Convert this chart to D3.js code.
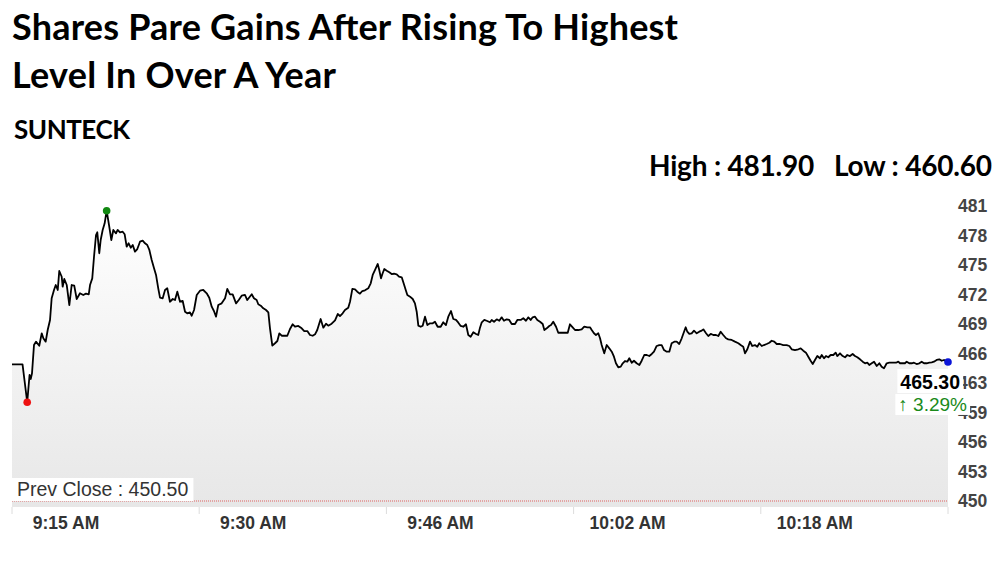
<!DOCTYPE html>
<html><head><meta charset="utf-8">
<script src="https://cdn.jsdelivr.net/npm/d3@7"></script>
<style>body{margin:0;background:#fff;} svg{display:block}</style>
</head><body><svg id="c" width="1000" height="562"></svg>
<script>
const titleLines = ["Shares Pare Gains After Rising To Highest", "Level In Over A Year"];
const symbol = "SUNTECK";
const dayHigh = 481.90, dayLow = 460.60, prevClose = 450.50;
const tickMinutes = [0, 16, 32, 48, 64];
const tickLabels = ["9:15 AM", "9:30 AM", "9:46 AM", "10:02 AM", "10:18 AM"];

// minutes since session start (chart index)
const minutes = [
  0, 0.9, 1.3, 1.5, 1.6, 1.71, 1.88, 2.05, 2.33, 2.54,
  2.68, 2.88, 3.05, 3.25, 3.39, 3.59, 3.74, 3.91, 4.04, 4.25,
  4.33, 4.47, 4.68, 4.9, 5.1, 5.32, 5.53, 5.81, 6.09, 6.32,
  6.56, 6.67, 6.86, 7.01, 7.18, 7.29, 7.46, 7.58, 7.75, 7.92,
  8.09, 8.29, 8.49, 8.66, 8.89, 9.03, 9.23, 9.46, 9.63, 9.8,
  9.97, 10.15, 10.32, 10.51, 10.71, 10.94, 11.17, 11.37, 11.56, 11.74,
  11.94, 12.14, 12.31, 12.5, 12.65, 12.88, 13.08, 13.27, 13.5, 13.74,
  13.93, 14.13, 14.36, 14.59, 14.79, 14.98, 15.21, 15.36, 15.56, 15.79,
  16.07, 16.35, 16.64, 16.86, 17.07, 17.26, 17.44, 17.63, 17.92, 18.21,
  18.4, 18.63, 18.86, 19.15, 19.38, 19.63, 19.91, 20.11,
  20.49, 20.68, 20.91, 21.05, 21.26, 21.48, 21.71, 21.91, 22.05, 22.25,
  22.48, 22.68, 22.85, 23.05, 23.33, 23.53, 23.76, 23.99, 24.19, 24.47,
  24.76, 24.98, 25.24, 25.47, 25.7, 25.9, 26.09, 26.38, 26.61, 26.84,
  27.03, 27.32, 27.61, 27.84, 28.03, 28.26, 28.46, 28.74, 28.89, 29.09,
  29.32, 29.51, 29.74, 29.94, 30.17, 30.45, 30.66, 30.83, 31.03, 31.26,
  31.39, 31.54, 31.68, 31.82, 32.03, 32.25, 32.45, 32.65, 32.88, 33.08,
  33.31, 33.5, 33.68, 33.79, 34.02, 34.25, 34.44, 34.59, 34.73, 34.93,
  35.1, 35.3, 35.5, 35.73, 35.96, 36.15, 36.38, 36.64, 36.86, 37.09,
  37.29, 37.52, 37.72, 37.95, 38.15, 38.35, 38.57, 38.8, 39.0, 39.2,
  39.43, 39.66, 39.85, 40.0, 40.15, 40.37, 40.62, 40.85,
  41.0, 41.2, 41.43, 41.65, 41.85, 42.05, 42.28, 42.5, 42.71, 42.99,
  43.19, 43.48, 43.7, 43.93, 44.13, 44.33, 44.5, 44.7, 44.9, 45.13,
  45.36, 45.5, 45.7, 45.92, 46.07, 46.26, 46.5, 46.69, 46.98, 47.26,
  47.5, 47.69, 47.92, 48.12, 48.4, 48.69, 48.91, 49.17, 49.4, 49.55,
  49.74, 49.91, 50.11, 50.26, 50.4, 50.62, 50.83, 51.05, 51.26, 51.45,
  51.62, 51.82, 52.03, 52.2, 52.39, 52.59, 52.76, 52.97, 53.16, 53.39,
  53.62, 53.82, 54.04, 54.25, 54.47, 54.68, 54.87, 55.1, 55.32, 55.53,
  55.73, 55.96, 56.18, 56.38, 56.61, 56.81, 57.03, 57.24, 57.44, 57.58,
  57.72, 57.89, 58.09, 58.29, 58.52, 58.74, 58.95, 59.09, 59.32, 59.51,
  59.72, 59.94, 60.17, 60.37, 60.57, 60.79, 61.03, 61.22,
  61.51, 61.79, 62.08, 62.28, 62.5, 62.65, 62.85, 63.08, 63.27, 63.5,
  63.7, 63.87, 64.08, 64.27, 64.5, 64.73, 64.93, 65.15, 65.36, 65.64,
  65.92, 66.21, 66.44, 66.64, 66.92, 67.21, 67.41, 67.63, 67.86, 68.06,
  68.26, 68.44, 68.63, 68.83, 69.06, 69.21, 69.4, 69.57, 69.77, 69.97,
  70.2, 70.4, 70.54, 70.77, 71.0, 71.2, 71.39, 71.62, 71.85, 72.05,
  72.25, 72.48, 72.71, 72.91, 73.1, 73.27, 73.48, 73.68, 73.91, 74.13,
  74.33, 74.53, 74.76, 74.98, 75.27, 75.56, 75.75, 75.9, 76.32, 76.47,
  76.69, 76.9, 77.09, 77.32, 77.55, 77.75, 77.95, 78.18, 78.4, 78.61,
  78.8, 79.03, 79.26, 79.46, 79.66, 79.89, 80.0
];

const prices = [
  465.05, 465.05, 461.01, 463.91, 463.49, 464.09, 467.10, 467.46, 467.03, 468.35,
  467.82, 467.46, 468.70, 469.77, 472.08, 472.96, 473.49, 472.96, 474.98, 474.37,
  473.31, 474.13, 473.49, 471.36, 473.49, 473.42, 472.00, 472.61, 472.43, 472.57,
  472.50, 473.49, 474.20, 476.50, 478.81, 479.10, 476.87, 478.28, 479.35, 480.06,
  481.40, 479.88, 478.28, 479.35, 478.99, 479.35, 479.10, 479.16, 478.89, 477.57,
  477.93, 477.46, 477.75, 477.04, 477.32, 478.10, 478.21, 477.93, 477.75, 477.22,
  476.15, 475.27, 474.56, 473.14, 472.14, 472.08, 472.96, 473.14, 471.71, 472.00,
  471.89, 472.78, 471.71, 471.79, 470.65, 470.48, 470.58, 470.22, 470.83, 472.43,
  472.88, 472.96, 472.61, 472.14, 471.18, 470.72, 470.12, 471.36, 471.54, 472.08,
  473.07, 472.50, 472.50, 471.54, 471.89, 472.35, 472.43, 471.89,
  472.50, 472.08, 471.89, 471.44, 471.29, 471.01, 470.83, 470.58, 468.88, 467.03,
  467.29, 467.53, 468.35, 468.09, 468.09, 468.09, 468.81, 469.31, 469.05, 469.13,
  468.88, 468.59, 468.59, 468.17, 468.09, 468.24, 468.70, 469.87, 468.95, 469.37,
  469.16, 469.37, 469.73, 470.40, 470.19, 470.48, 470.83, 471.07, 471.71, 473.07,
  473.03, 472.78, 472.57, 472.85, 472.93, 473.14, 473.67, 474.56, 475.09, 475.73,
  475.09, 474.20, 474.74, 475.19, 475.01, 474.84, 474.66, 474.69, 474.63, 474.37,
  474.31, 473.57, 472.85, 472.43, 472.25, 472.00, 471.54, 470.65, 469.16, 469.05,
  469.16, 470.12, 469.23, 469.41, 469.41, 469.58, 469.05, 469.05, 469.52, 469.23,
  470.12, 470.72, 469.87, 469.77, 469.48, 469.13, 469.05, 469.31, 468.17, 467.99,
  468.46, 468.28, 468.17, 468.95, 469.52, 469.77, 469.66, 469.52,
  469.77, 469.58, 469.84, 469.69, 470.05, 469.69, 469.84, 469.77, 469.34, 469.34,
  469.77, 469.77, 469.95, 469.69, 470.05, 469.77, 470.05, 470.12, 469.77, 469.58,
  469.34, 468.70, 468.88, 469.13, 469.23, 469.58, 469.05, 468.41, 468.41, 468.41,
  468.41, 469.31, 468.99, 468.70, 468.70, 468.77, 469.05, 468.99, 468.99, 468.70,
  468.35, 468.17, 468.35, 467.82, 467.10, 466.22, 467.10, 466.75, 466.39, 465.86,
  465.16, 464.73, 464.80, 465.16, 465.40, 465.33, 465.69, 465.22, 465.43, 465.16,
  464.98, 465.43, 466.04, 466.04, 465.93, 466.15, 466.39, 467.00, 467.10, 467.10,
  466.57, 466.39, 466.39, 467.29, 467.46, 467.46, 467.21, 467.82, 468.52, 468.99,
  468.52, 468.28, 468.35, 468.63, 468.35, 468.52, 468.63, 468.77, 468.35, 468.06,
  468.28, 468.17, 468.17, 468.06, 468.52, 468.17, 467.82, 467.71,
  467.64, 467.46, 467.29, 467.10, 466.92, 466.22, 466.65, 467.46, 467.00, 467.10,
  466.92, 467.29, 467.00, 467.10, 467.21, 467.35, 467.56, 467.46, 467.21, 467.21,
  467.10, 467.10, 467.00, 466.65, 466.57, 466.65, 466.75, 466.50, 466.29, 465.86,
  465.43, 465.08, 465.51, 465.93, 465.69, 466.04, 465.69, 465.93, 465.80, 466.04,
  466.04, 466.29, 465.93, 466.22, 465.93, 465.80, 466.04, 465.93, 466.15, 465.93,
  465.80, 465.58, 465.33, 465.16, 465.22, 464.98, 465.16, 465.33, 464.87, 465.16,
  464.80, 464.62, 465.16, 465.22, 465.22, 465.22, 465.33, 465.16, 465.16, 465.33,
  465.16, 465.16, 465.22, 465.08, 465.16, 465.33, 465.16, 465.16, 465.22, 465.26,
  465.33, 465.51, 465.58, 465.43, 465.51, 465.33, 465.30
];

const data = minutes.map((m, i) => ({ m, p: prices[i] }));

const svg = d3.select("#c");
const plot = { left: 12, right: 948, top: 206, bottom: 501, fillBottom: 507 };
const headFont = "Lato, 'Open Sans', sans-serif";
const axisFont = "'Liberation Sans', Arial, sans-serif";

const x = d3.scaleLinear().domain([0, d3.max(minutes)]).range([plot.left, plot.right]);
const yLo = Math.min(prevClose, dayLow), yHi = dayHigh;
const y = d3.scaleLinear().domain([yLo, yHi]).range([plot.bottom, plot.top]);

// Titles
svg.selectAll("text.title").data(titleLines).join("text")
  .attr("class", "title")
  .attr("x", 12).attr("y", (d, i) => 40 + i * 48)
  .attr("font-family", headFont).attr("font-weight", 700).attr("font-size", 36)
  .attr("fill", "#000")
  .attr("textLength", (d, i) => i === 0 ? 666 : 324)
  .text(d => d);

svg.append("text").attr("x", 14).attr("y", 139)
  .attr("font-family", headFont).attr("font-weight", 700).attr("font-size", 26)
  .attr("textLength", 116)
  .text(symbol);

svg.append("text").attr("x", 992).attr("y", 176).attr("text-anchor", "end")
  .attr("font-family", headFont).attr("font-weight", 700).attr("font-size", 28)
  .attr("textLength", 343)
  .attr("xml:space", "preserve")
  .text(`High : ${dayHigh.toFixed(2)}   Low : ${dayLow.toFixed(2)}`);

// Gradient
const defs = svg.append("defs");
const grad = defs.append("linearGradient").attr("id", "g").attr("gradientUnits", "userSpaceOnUse")
  .attr("x1", 0).attr("x2", 0).attr("y1", plot.top).attr("y2", plot.fillBottom);
grad.append("stop").attr("offset", 0).attr("stop-color", "#ffffff");
grad.append("stop").attr("offset", 1).attr("stop-color", "#e7e7e7");

svg.append("path").datum(data)
  .attr("fill", "url(#g)")
  .attr("d", d3.area().x(d => x(d.m)).y0(plot.fillBottom).y1(d => y(d.p)));

// Prev close line
svg.append("line")
  .attr("x1", plot.left).attr("x2", plot.right)
  .attr("y1", y(prevClose)).attr("y2", y(prevClose))
  .attr("stroke", "#e06060").attr("stroke-width", 1).attr("stroke-dasharray", "1,1");

// X ticks
const xTickVals = tickMinutes.concat([d3.max(minutes)]);
svg.selectAll("line.xt").data(xTickVals).join("line").attr("class", "xt")
  .attr("x1", d => x(d)).attr("x2", d => x(d))
  .attr("y1", plot.fillBottom).attr("y2", plot.fillBottom + 7)
  .attr("stroke", "#dcdcdc").attr("stroke-width", 1);

svg.selectAll("text.xl").data(tickMinutes).join("text").attr("class", "xl")
  .attr("x", d => x(d) + 54).attr("y", 529)
  .attr("text-anchor", "middle")
  .attr("font-family", axisFont).attr("font-weight", 700).attr("font-size", 17.5)
  .attr("fill", "#333")
  .text((d, i) => tickLabels[i]);

// Y ticks
const yTicks = d3.range(11).map(i => yLo + i * (yHi - yLo) / 10);
svg.selectAll("text.yl").data(yTicks).join("text").attr("class", "yl")
  .attr("x", 958).attr("y", d => y(d)).attr("dy", "0.36em")
  .attr("font-family", axisFont).attr("font-weight", 700).attr("font-size", 17.5)
  .attr("fill", "#444")
  .text(d => Math.floor(d));

// Line
svg.append("path").datum(data)
  .attr("fill", "none").attr("stroke", "#000").attr("stroke-width", 1.8)
  .attr("stroke-linejoin", "round")
  .attr("d", d3.line().x(d => x(d.m)).y(d => y(d.p)));

// Prev close label
const pcG = svg.append("g");
const pcRect = pcG.append("rect").attr("fill", "#fff");
const pcText = pcG.append("text").attr("x", plot.left + 5).attr("y", y(prevClose) - 5)
  .attr("font-family", axisFont).attr("font-size", 19.5).attr("fill", "#333")
  .text(`Prev Close : ${prevClose.toFixed(2)}`);
const pb = pcText.node().getBBox();
pcRect.attr("x", plot.left).attr("y", pb.y).attr("width", pb.width + 10).attr("height", y(prevClose) - pb.y);

// Markers
const maxPt = data.reduce((a, b) => b.p > a.p ? b : a);
const minPt = data.reduce((a, b) => b.p < a.p ? b : a);
const last = data[data.length - 1];
svg.append("circle").attr("cx", x(maxPt.m)).attr("cy", y(maxPt.p)).attr("r", 3.8).attr("fill", "#118811");
svg.append("circle").attr("cx", x(minPt.m)).attr("cy", y(minPt.p)).attr("r", 3.8).attr("fill", "#ee1111");

// Last price label
const lastX = x(last.m) + 12;
const chg = (last.p - prevClose) / prevClose * 100;
const lg = svg.append("g");
const r1 = lg.append("rect").attr("fill", "#fff");
const r2 = lg.append("rect").attr("fill", "#fff");
const t1 = lg.append("text").attr("x", lastX).attr("y", y(last.p) + 27).attr("text-anchor", "end")
  .attr("font-family", axisFont).attr("font-weight", 700).attr("font-size", 19.5).attr("fill", "#000")
  .text(last.p.toFixed(2));
const t2 = lg.append("text").attr("x", lastX + 7).attr("y", y(last.p) + 49).attr("text-anchor", "end")
  .attr("font-family", axisFont).attr("font-size", 19).attr("fill", "#1a8a1a")
  .text(`${chg >= 0 ? "\u2191" : "\u2193"} ${chg.toFixed(2)}%`);
const b1 = t1.node().getBBox(), b2 = t2.node().getBBox();
r1.attr("x", b1.x - 3).attr("y", b1.y - 2).attr("width", b1.width + 6).attr("height", b1.height + 2);
r2.attr("x", b2.x - 3).attr("y", b2.y).attr("width", b2.width + 6).attr("height", b2.height);

svg.append("circle").attr("cx", x(last.m)).attr("cy", y(last.p)).attr("r", 3.8).attr("fill", "#0a14d8");
</script></body></html>
